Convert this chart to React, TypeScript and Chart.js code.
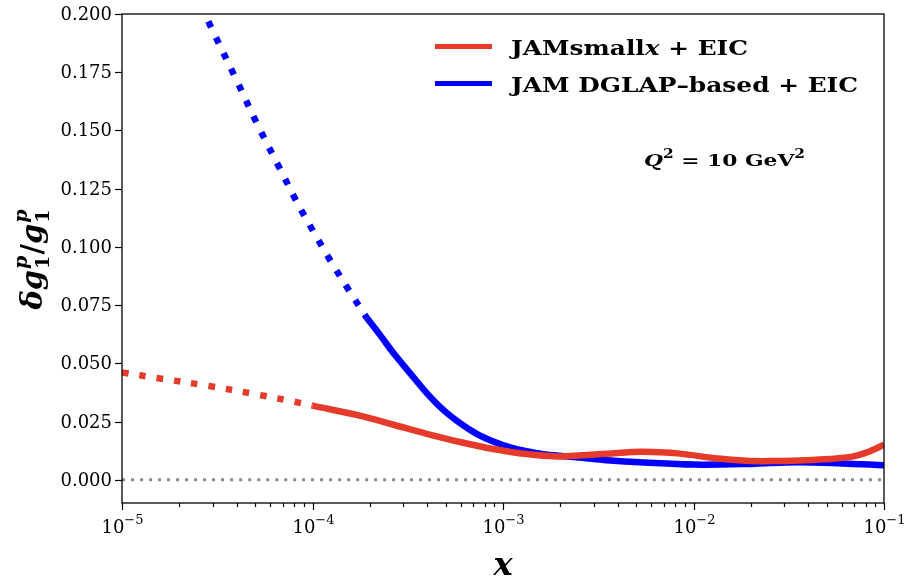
import React, { useEffect, useRef } from "react";
import { Chart, registerables } from "chart.js";
Chart.register(...registerables);

// ---------------- data ----------------
const redDottedX = [1e-5, 1.55e-5, 2.84e-5, 5.19e-5, 7.92e-5, 1e-4];
const redDottedY = [0.0461, 0.0436, 0.0403, 0.0365, 0.0336, 0.0318];

const redSolidX = [1e-4, 1.77e-4, 2.66e-4, 3.98e-4, 5.94e-4, 8.89e-4, 1.33e-3, 1.91e-3, 2.6e-3, 3.5e-3, 5.4e-3, 8.5e-3, 1.3e-2, 1.9e-2, 2.6e-2, 3.6e-2, 5.2e-2, 6.9e-2, 8.3e-2, 1e-1];
const redSolidY = [0.0318, 0.0275, 0.0236, 0.0197, 0.0162, 0.0132, 0.0110, 0.0100, 0.0105, 0.0112, 0.0120, 0.0112, 0.0092, 0.0081, 0.0080, 0.0083, 0.0089, 0.0100, 0.0120, 0.0150];

const blueDottedX = [2.6e-5, 3.01e-5, 3.95e-5, 5.15e-5, 6.84e-5, 8.26e-5, 1.01e-4, 1.25e-4, 1.56e-4, 1.93e-4];
const blueDottedY = [0.2036, 0.1924, 0.1724, 0.1524, 0.1326, 0.1194, 0.1066, 0.0937, 0.0811, 0.0694];

const blueSolidX = [1.93e-4, 2.26e-4, 2.66e-4, 3.25e-4, 3.98e-4, 4.86e-4, 5.95e-4, 7.27e-4, 8.89e-4, 1.09e-3, 1.33e-3, 1.63e-3, 1.95e-3, 2.6e-3, 3.5e-3, 5.5e-3, 1.0e-2, 2.0e-2, 3.5e-2, 6.0e-2, 1.0e-1];
const blueSolidY = [0.0694, 0.0622, 0.0544, 0.0458, 0.0372, 0.0300, 0.0243, 0.0197, 0.0164, 0.0139, 0.0122, 0.0110, 0.0103, 0.0094, 0.0084, 0.0074, 0.0065, 0.0068, 0.0075, 0.0070, 0.0062];

const zeroLineX = [1e-5, 1e-1];
const zeroLineY = [0, 0];

const yTicks = [0.0, 0.025, 0.05, 0.075, 0.1, 0.125, 0.15, 0.175, 0.2];
const xMajorExponents = [-5, -4, -3, -2, -1];
const xMinorMultipliers = [2, 3, 4, 5, 6, 7, 8, 9];

const legendLabels = ["JAMsmall", "JAM DGLAP\u2013based + EIC"];
const annotationText = "Q\u00b2 = 10 GeV\u00b2";

const RED = "#e63a2b";
const BLUE = "#0000ff";
const SERIF = '"DejaVu Serif", "Liberation Serif", serif';

type Run = { t: string; size: number; weight?: string; style?: string; dy?: number };

function fontOf(r: Run) {
  return `${r.style || "normal"} ${r.weight || "normal"} ${r.size}px ${SERIF}`;
}

function naturalWidth(ctx: CanvasRenderingContext2D, runs: Run[]) {
  let w = 0;
  for (const r of runs) {
    ctx.font = fontOf(r);
    w += ctx.measureText(r.t).width;
  }
  return w;
}

// draw runs starting at x; if target given, stretch horizontally to that width
function drawRuns(ctx: CanvasRenderingContext2D, runs: Run[], x: number, y: number, target?: number) {
  const nat = naturalWidth(ctx, runs);
  const sx = target ? target / nat : 1;
  ctx.save();
  ctx.translate(x, y);
  ctx.scale(sx, 1);
  let cx = 0;
  for (const r of runs) {
    ctx.font = fontOf(r);
    ctx.fillText(r.t, cx, r.dy || 0);
    cx += ctx.measureText(r.t).width;
  }
  ctx.restore();
}

const pts = (xs: number[], ys: number[]) => xs.map((x, i) => ({ x, y: ys[i] }));

const decorPlugin = {
  id: "decor",
  afterDraw(chart: any) {
    const ctx: CanvasRenderingContext2D = chart.ctx;
    const a = chart.chartArea;
    const xs = chart.scales.x;
    const ys = chart.scales.y;
    ctx.save();
    ctx.fillStyle = "#000";
    ctx.strokeStyle = "#000";

    // frame
    ctx.lineWidth = 1.3;
    ctx.strokeRect(a.left, a.top, a.right - a.left, a.bottom - a.top);

    // y ticks
    ctx.lineWidth = 1.2;
    ctx.textAlign = "right";
    ctx.textBaseline = "middle";
    ctx.font = `18px ${SERIF}`;
    for (const v of yTicks) {
      const py = Math.round(ys.getPixelForValue(v)) + 0.5;
      ctx.beginPath();
      ctx.moveTo(a.left - 7, py);
      ctx.lineTo(a.left, py);
      ctx.stroke();
      ctx.fillText(v.toFixed(3), a.left - 10, py + 1);
    }

    // x ticks
    ctx.textAlign = "left";
    ctx.textBaseline = "alphabetic";
    for (const e of xMajorExponents) {
      const px = Math.round(xs.getPixelForValue(Math.pow(10, e))) + 0.5;
      ctx.beginPath();
      ctx.moveTo(px, a.bottom);
      ctx.lineTo(px, a.bottom + 7);
      ctx.stroke();
      if (e < -1) {
        for (const m of xMinorMultipliers) {
          const mx = Math.round(xs.getPixelForValue(m * Math.pow(10, e))) + 0.5;
          ctx.beginPath();
          ctx.moveTo(mx, a.bottom);
          ctx.lineTo(mx, a.bottom + 4);
          ctx.stroke();
        }
      }
      const runs: Run[] = [
        { t: "10", size: 18 },
        { t: "\u2212" + Math.abs(e), size: 13, dy: -9 },
      ];
      const w = naturalWidth(ctx, runs);
      drawRuns(ctx, runs, px - w / 2, a.bottom + 30);
    }

    // x axis title
    ctx.textAlign = "center";
    ctx.textBaseline = "alphabetic";
    ctx.font = `italic bold 32px ${SERIF}`;
    ctx.fillText("x", (a.left + a.right) / 2, 575);

    // y axis title (rotated)
    ctx.save();
    ctx.translate(42, 259);
    ctx.rotate(-Math.PI / 2);
    ctx.textAlign = "left";
    ctx.textBaseline = "alphabetic";
    const big = `italic bold 29px ${SERIF}`;
    const small = `italic bold 19px ${SERIF}`;
    const smallUp = `bold 19px ${SERIF}`;
    const pieces: any[] = [
      { kind: "t", t: "\u03b4", f: big },
      { kind: "t", t: "g", f: big },
      { kind: "s", sup: "p", sub: "1" },
      { kind: "t", t: "/", f: `bold 29px ${SERIF}` },
      { kind: "t", t: "g", f: big },
      { kind: "s", sup: "p", sub: "1" },
    ];
    let total = 0;
    const widths: number[] = [];
    for (const p of pieces) {
      let w = 0;
      if (p.kind === "t") {
        ctx.font = p.f;
        w = ctx.measureText(p.t).width;
      } else {
        ctx.font = small;
        const w1 = ctx.measureText(p.sup).width;
        ctx.font = smallUp;
        const w2 = ctx.measureText(p.sub).width;
        w = Math.max(w1, w2) + 2;
      }
      widths.push(w);
      total += w;
    }
    let cx = -total / 2;
    pieces.forEach((p, i) => {
      if (p.kind === "t") {
        ctx.font = p.f;
        ctx.fillText(p.t, cx, 0);
      } else {
        ctx.font = small;
        ctx.fillText(p.sup, cx + 1, -15);
        ctx.font = smallUp;
        ctx.fillText(p.sub, cx + 1, 7);
      }
      cx += widths[i];
    });
    ctx.restore();

    // legend
    ctx.lineWidth = 5;
    ctx.lineCap = "butt";
    ctx.strokeStyle = RED;
    ctx.beginPath();
    ctx.moveTo(435, 46.5);
    ctx.lineTo(492, 46.5);
    ctx.stroke();
    ctx.strokeStyle = BLUE;
    ctx.beginPath();
    ctx.moveTo(435, 83.5);
    ctx.lineTo(492, 83.5);
    ctx.stroke();

    ctx.fillStyle = "#000";
    ctx.textAlign = "left";
    ctx.textBaseline = "alphabetic";
    drawRuns(
      ctx,
      [
        { t: legendLabels[0], size: 20, weight: "bold" },
        { t: "x", size: 20, weight: "bold", style: "italic" },
        { t: " + EIC", size: 20, weight: "bold" },
      ],
      511,
      55,
      237
    );
    drawRuns(ctx, [{ t: legendLabels[1], size: 20, weight: "bold" }], 511, 92, 347);

    // annotation Q^2 = 10 GeV^2
    const q = annotationText;
    drawRuns(
      ctx,
      [
        { t: q.slice(0, 1), size: 17, weight: "bold", style: "italic" },
        { t: "2", size: 12, weight: "bold", dy: -8 },
        { t: " = 10 ", size: 17, weight: "bold" },
        { t: "GeV", size: 17, weight: "bold" },
        { t: "2", size: 12, weight: "bold", dy: -8 },
      ],
      644,
      166,
      161
    );

    ctx.restore();
  },
};

export default function App() {
  const ref = useRef<HTMLCanvasElement | null>(null);
  useEffect(() => {
    if (!ref.current) return;
    const dotted = [6.5, 11];
    const common = {
      pointRadius: 0,
      fill: false,
      tension: 0.35,
      clip: 0,
      borderCapStyle: "butt" as const,
      borderJoinStyle: "round" as const,
    };
    const chart = new Chart(ref.current, {
      type: "line",
      data: {
        datasets: [
          {
            ...common,
            data: pts(zeroLineX, zeroLineY),
            borderColor: "#8c8c8c",
            borderWidth: 3,
            borderDash: [3, 6],
          },
          { ...common, data: pts(redDottedX, redDottedY), borderColor: RED, borderWidth: 6.5, borderDash: dotted },
          { ...common, data: pts(blueDottedX, blueDottedY), borderColor: BLUE, borderWidth: 6.5, borderDash: dotted },
          { ...common, data: pts(redSolidX, redSolidY), borderColor: RED, borderWidth: 6.5 },
          { ...common, data: pts(blueSolidX, blueSolidY), borderColor: BLUE, borderWidth: 6.5 },
        ] as any,
      },
      options: {
        animation: false,
        responsive: false,
        devicePixelRatio: 1,
        layout: { padding: { left: 122, right: 33, top: 14, bottom: 75 } },
        scales: {
          x: { type: "logarithmic", min: 1e-5, max: 1e-1, display: false },
          y: { type: "linear", min: -0.01, max: 0.2, display: false },
        },
        plugins: { legend: { display: false }, tooltip: { enabled: false } },
        events: [],
      },
      plugins: [decorPlugin],
    });
    return () => chart.destroy();
  }, []);
  return (
    <div style={{ position: "fixed", left: 0, top: 0, width: 917, height: 578, background: "#fff" }}>
      <canvas ref={ref} width={917} height={578} style={{ display: "block", width: 917, height: 578 }} />
    </div>
  );
}
